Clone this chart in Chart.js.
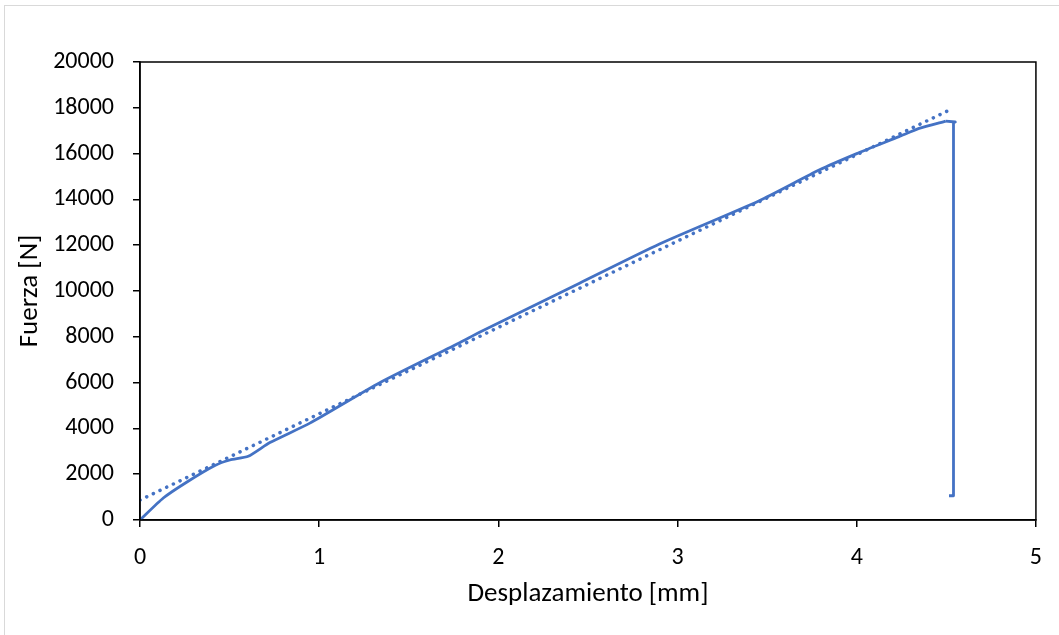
<!DOCTYPE html>
<html>
<head>
<meta charset="utf-8">
<script src="https://cdn.jsdelivr.net/npm/chart.js@4/dist/chart.umd.min.js"></script>
<style>
  html, body { margin: 0; padding: 0; background: #fff; }
  #wrap { width: 1059px; height: 635px; }
</style>
</head>
<body>
<div id="wrap"><canvas id="chart" width="1059" height="635"></canvas></div>
<script>
// Montée de la courbe force / déplacement
const desplazamiento = [0, 0.13, 0.26, 0.418, 0.502, 0.604, 0.725, 0.948, 1.338, 1.784, 1.895, 2.453, 2.899, 3.456, 3.79, 4.0, 4.236, 4.348, 4.497];
const fuerza = [0, 960, 1650, 2380, 2620, 2780, 3380, 4230, 5996, 7744, 8200, 10340, 12050, 13940, 15280, 16000, 16740, 17100, 17420];

// Rupture : palier puis chute verticale
const caidaX = [4.497, 4.55, 4.54, 4.54, 4.515];
const caidaY = [17420, 17380, 17350, 1060, 1060];

// Ligne de tendance (pointillés)
const tendenciaX = [0, 4.53];
const tendenciaY = [870, 17950];

const xTicks = [0, 1, 2, 3, 4, 5];
const yTicks = [0, 2000, 4000, 6000, 8000, 10000, 12000, 14000, 16000, 18000, 20000];

const azul = '#4472C4';
const fontFam = "Carlito, Calibri, Lato, sans-serif";

const toPoints = (xs, ys) => xs.map((x, i) => ({ x: x, y: ys[i] }));

// Fond blanc, cadre gris extérieur et cadre noir de la zone de tracé
const framePlugin = {
    id: 'frame',
    beforeDraw(chart) {
        const ctx = chart.ctx;
        ctx.save();
        ctx.fillStyle = '#fff';
        ctx.fillRect(0, 0, chart.width, chart.height);
        ctx.strokeStyle = '#d9d9d9';
        ctx.lineWidth = 1;
        ctx.strokeRect(4.5, 5.5, chart.width - 4, chart.height - 5);
        ctx.restore();
    },
    afterDatasetsDraw(chart) {
        const a = chart.chartArea;
        const ctx = chart.ctx;
        ctx.save();
        ctx.strokeStyle = '#000';
        ctx.lineWidth = 1.5;
        ctx.strokeRect(a.left, a.top, a.right - a.left, a.bottom - a.top);
        ctx.restore();
    }
};

new Chart(document.getElementById('chart').getContext('2d'), {
    type: 'line',
    data: {
        datasets: [
            {
                label: 'Curva',
                data: toPoints(desplazamiento, fuerza),
                borderColor: azul,
                borderWidth: 2.8,
                pointRadius: 0,
                tension: 0.2,
                fill: false,
                order: 1
            },
            {
                label: 'Rotura',
                data: toPoints(caidaX, caidaY),
                borderColor: azul,
                borderWidth: 2.8,
                borderJoinStyle: 'round',
                pointRadius: 0,
                tension: 0,
                fill: false,
                order: 1
            },
            {
                label: 'Tendencia',
                data: toPoints(tendenciaX, tendenciaY),
                borderColor: azul,
                borderWidth: 3.5,
                borderDash: [0.1, 7.3],
                borderCapStyle: 'round',
                pointRadius: 0,
                tension: 0,
                fill: false,
                order: 2
            }
        ]
    },
    options: {
        responsive: false,
        animation: false,
        layout: { padding: { left: 0, top: 62, right: 22, bottom: 0 } },
        plugins: {
            legend: { display: false },
            tooltip: { enabled: false }
        },
        scales: {
            x: {
                type: 'linear',
                min: 0,
                max: 5,
                afterBuildTicks: scale => { scale.ticks = xTicks.map(v => ({ value: v })); },
                afterFit: scale => { scale.height = 115; },
                grid: { drawOnChartArea: false, drawTicks: true, tickLength: 7, color: '#000', lineWidth: 1.5 },
                border: { color: '#000', width: 1.5 },
                ticks: { color: '#000', padding: 17, maxRotation: 0, font: { family: fontFam, size: 24 } },
                title: {
                    display: true,
                    text: 'Desplazamiento [mm]',
                    color: '#000',
                    padding: 25,
                    font: { family: fontFam, size: 27 }
                }
            },
            y: {
                type: 'linear',
                min: 0,
                max: 20000,
                afterBuildTicks: scale => { scale.ticks = yTicks.map(v => ({ value: v })); },
                afterFit: scale => { scale.width = 140; },
                grid: { drawOnChartArea: false, drawTicks: true, tickLength: 7, color: '#000', lineWidth: 1.5 },
                border: { color: '#000', width: 1.5 },
                ticks: { color: '#000', padding: 19, font: { family: fontFam, size: 24 }, callback: v => String(v) },
                title: {
                    display: true,
                    text: 'Fuerza [N]',
                    color: '#000',
                    padding: 14,
                    font: { family: fontFam, size: 27 }
                }
            }
        }
    },
    plugins: [framePlugin]
});
</script>
</body>
</html>
